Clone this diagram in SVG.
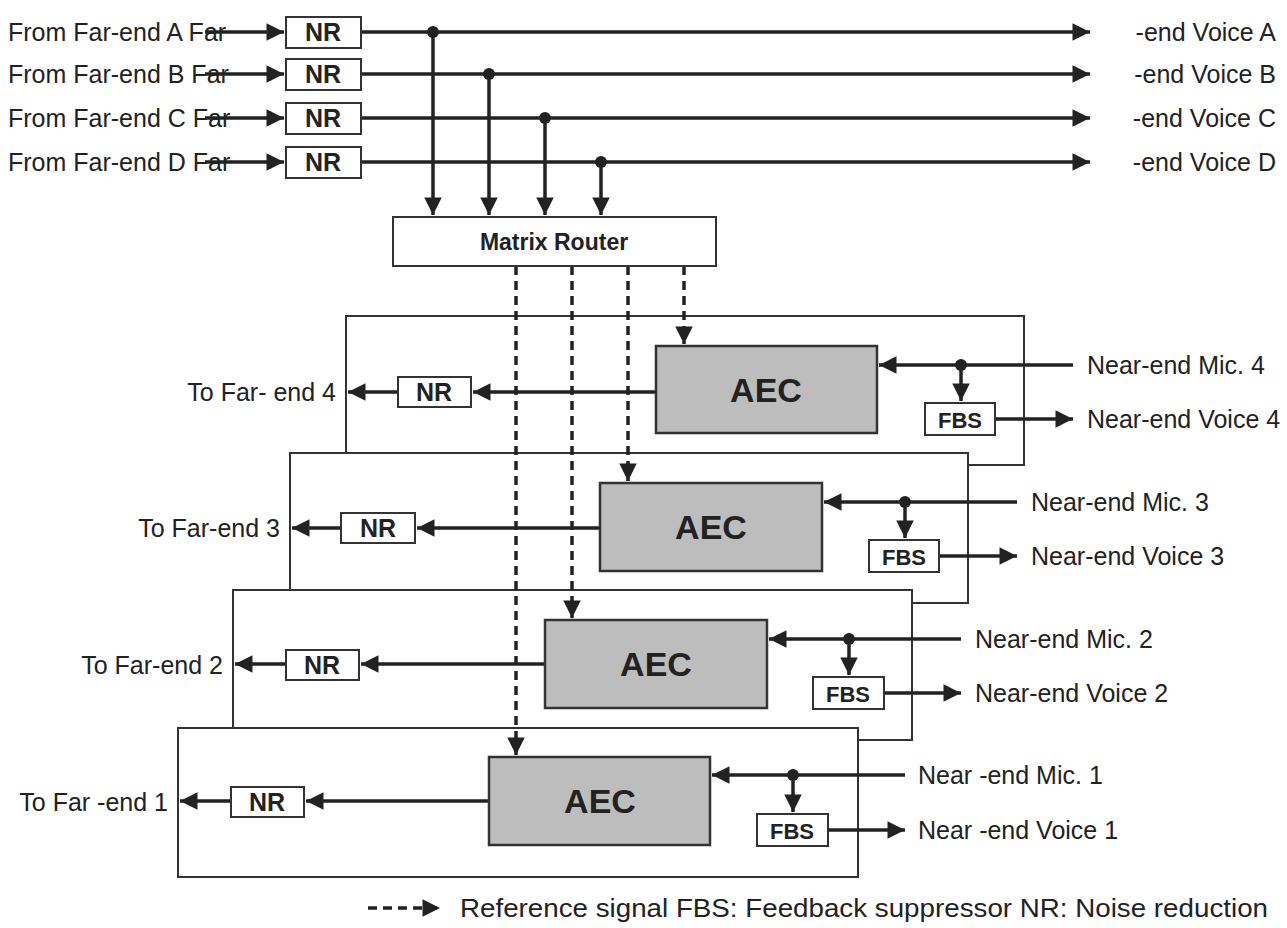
<svg xmlns="http://www.w3.org/2000/svg" width="1287" height="928" viewBox="0 0 1287 928">
<style>
text{font-family:"Liberation Sans Narrow","Liberation Sans",Arial,sans-serif;font-size:25px;fill:#222}
.b{font-weight:bold;text-anchor:middle}
.box{fill:#fff;stroke:#333;stroke-width:2}
.aec{fill:#bdbdbd;stroke:#333;stroke-width:2.5}
.panel{fill:#fff;stroke:#333;stroke-width:2}
.l{stroke:#222;stroke-width:3.5;fill:none}
.d{stroke:#222;stroke-width:3.5;fill:none;stroke-dasharray:9,6}
</style>
<defs>
<marker id="a" viewBox="0 0 10 10" refX="10" refY="5" markerWidth="6" markerHeight="5" orient="auto" markerUnits="strokeWidth"><path d="M0,0L10,5L0,10z" fill="#222"/></marker>
</defs>
<rect width="1287" height="928" fill="#fff"/>
<g id="panel4"><rect class="panel" x="346" y="316" width="678" height="149"/></g>
<g id="panel3"><rect class="panel" x="290" y="453" width="678" height="150"/></g>
<g id="panel2"><rect class="panel" x="233" y="590" width="679" height="150"/></g>
<g id="panel1"><rect class="panel" x="178" y="728" width="680" height="149"/></g>
<g id="connectors">
<path class="l" d="M205,32H284" marker-end="url(#a)"/>
<path class="l" d="M205,74H284" marker-end="url(#a)"/>
<path class="l" d="M205,118H284" marker-end="url(#a)"/>
<path class="l" d="M205,162H284" marker-end="url(#a)"/>
<path class="l" d="M361,32H1090" marker-end="url(#a)"/>
<path class="l" d="M361,74H1090" marker-end="url(#a)"/>
<path class="l" d="M361,118H1090" marker-end="url(#a)"/>
<path class="l" d="M361,162H1090" marker-end="url(#a)"/>
<path class="l" d="M433,32V215" marker-end="url(#a)"/>
<path class="l" d="M489,74V215" marker-end="url(#a)"/>
<path class="l" d="M545,118V215" marker-end="url(#a)"/>
<path class="l" d="M601,162V215" marker-end="url(#a)"/>
<g fill="#222"><circle cx="433" cy="32" r="6"/><circle cx="489" cy="74" r="6"/><circle cx="545" cy="118" r="6"/><circle cx="601" cy="162" r="6"/>
<circle cx="961" cy="365" r="6"/><circle cx="905" cy="502" r="6"/><circle cx="849" cy="639" r="6"/><circle cx="793" cy="775" r="6"/></g>
<path class="l" d="M656,392H473" marker-end="url(#a)"/><path class="l" d="M398,392H348" marker-end="url(#a)"/>
<path class="l" d="M600,528H417" marker-end="url(#a)"/><path class="l" d="M341,528H292" marker-end="url(#a)"/>
<path class="l" d="M545,664H361" marker-end="url(#a)"/><path class="l" d="M286,664H235" marker-end="url(#a)"/>
<path class="l" d="M489,801H306" marker-end="url(#a)"/><path class="l" d="M231,801H180" marker-end="url(#a)"/>
<path class="l" d="M1073,365H879" marker-end="url(#a)"/><path class="l" d="M961,365V401" marker-end="url(#a)"/><path class="l" d="M995,419H1073" marker-end="url(#a)"/>
<path class="l" d="M1017,502H824" marker-end="url(#a)"/><path class="l" d="M905,502V538" marker-end="url(#a)"/><path class="l" d="M939,556H1017" marker-end="url(#a)"/>
<path class="l" d="M961,639H769" marker-end="url(#a)"/><path class="l" d="M849,639V675" marker-end="url(#a)"/><path class="l" d="M884,693H961" marker-end="url(#a)"/>
<path class="l" d="M905,775H712" marker-end="url(#a)"/><path class="l" d="M793,775V812" marker-end="url(#a)"/><path class="l" d="M828,830H905" marker-end="url(#a)"/>
<path class="d" d="M684,266V344" marker-end="url(#a)"/>
<path class="d" d="M628,266V481" marker-end="url(#a)"/>
<path class="d" d="M572,266V618" marker-end="url(#a)"/>
<path class="d" d="M516,266V755" marker-end="url(#a)"/>
<path class="d" d="M368,908H440" marker-end="url(#a)"/>
</g>
<g id="nrA"><rect class="box" x="286" y="17" width="75" height="31"/><text class="b" x="323" y="41">NR</text></g>
<g id="nrB"><rect class="box" x="286" y="59" width="75" height="31"/><text class="b" x="323" y="83">NR</text></g>
<g id="nrC"><rect class="box" x="286" y="103" width="75" height="31"/><text class="b" x="323" y="127">NR</text></g>
<g id="nrD"><rect class="box" x="286" y="147" width="75" height="31"/><text class="b" x="323" y="171">NR</text></g>
<g id="router"><rect class="box" x="393" y="217" width="323" height="49"/><text class="b" x="554" y="250" style="font-size:23px">Matrix Router</text></g>
<g id="aec4"><rect class="aec" x="656" y="346" width="221" height="87"/><text class="b" x="766" y="402" style="font-size:34px">AEC</text></g>
<g id="aec3"><rect class="aec" x="600" y="483" width="222" height="88"/><text class="b" x="711" y="539" style="font-size:34px">AEC</text></g>
<g id="aec2"><rect class="aec" x="545" y="620" width="222" height="88"/><text class="b" x="656" y="676" style="font-size:34px">AEC</text></g>
<g id="aec1"><rect class="aec" x="489" y="757" width="221" height="88"/><text class="b" x="600" y="813" style="font-size:34px">AEC</text></g>
<g id="nr4"><rect class="box" x="398" y="377" width="73" height="30"/><text class="b" x="434" y="401">NR</text></g>
<g id="nr3"><rect class="box" x="341" y="513" width="74" height="30"/><text class="b" x="378" y="537">NR</text></g>
<g id="nr2"><rect class="box" x="286" y="650" width="73" height="30"/><text class="b" x="322" y="674">NR</text></g>
<g id="nr1"><rect class="box" x="231" y="787" width="73" height="30"/><text class="b" x="267" y="811">NR</text></g>
<g id="fbs4"><rect class="box" x="925" y="403" width="70" height="32"/><text class="b" x="960" y="428" style="font-size:22px">FBS</text></g>
<g id="fbs3"><rect class="box" x="869" y="540" width="70" height="32"/><text class="b" x="904" y="565" style="font-size:22px">FBS</text></g>
<g id="fbs2"><rect class="box" x="813" y="677" width="71" height="32"/><text class="b" x="848" y="702" style="font-size:22px">FBS</text></g>
<g id="fbs1"><rect class="box" x="757" y="814" width="71" height="32"/><text class="b" x="792" y="839" style="font-size:22px">FBS</text></g>
<g id="labels">
<text x="8" y="41">From Far-end A Far</text>
<text x="8" y="83">From Far-end B Far</text>
<text x="8" y="127">From Far-end C Far</text>
<text x="8" y="171">From Far-end D Far</text>
<text x="1276" y="41" text-anchor="end">-end Voice A</text>
<text x="1276" y="83" text-anchor="end">-end Voice B</text>
<text x="1276" y="127" text-anchor="end">-end Voice C</text>
<text x="1276" y="171" text-anchor="end">-end Voice D</text>
<text x="336" y="401" text-anchor="end">To Far- end 4</text>
<text x="280" y="537" text-anchor="end">To Far-end 3</text>
<text x="223" y="674" text-anchor="end">To Far-end 2</text>
<text x="168" y="811" text-anchor="end">To Far -end 1</text>
<text x="1087" y="374">Near-end Mic. 4</text>
<text x="1087" y="428">Near-end Voice 4</text>
<text x="1031" y="511">Near-end Mic. 3</text>
<text x="1031" y="565">Near-end Voice 3</text>
<text x="975" y="648">Near-end Mic. 2</text>
<text x="975" y="702">Near-end Voice 2</text>
<text x="918" y="784">Near -end Mic. 1</text>
<text x="918" y="839">Near -end Voice 1</text>
<text x="460" y="917" textLength="808" lengthAdjust="spacingAndGlyphs">Reference signal FBS: Feedback suppressor NR: Noise reduction</text>
</g>
</svg>
